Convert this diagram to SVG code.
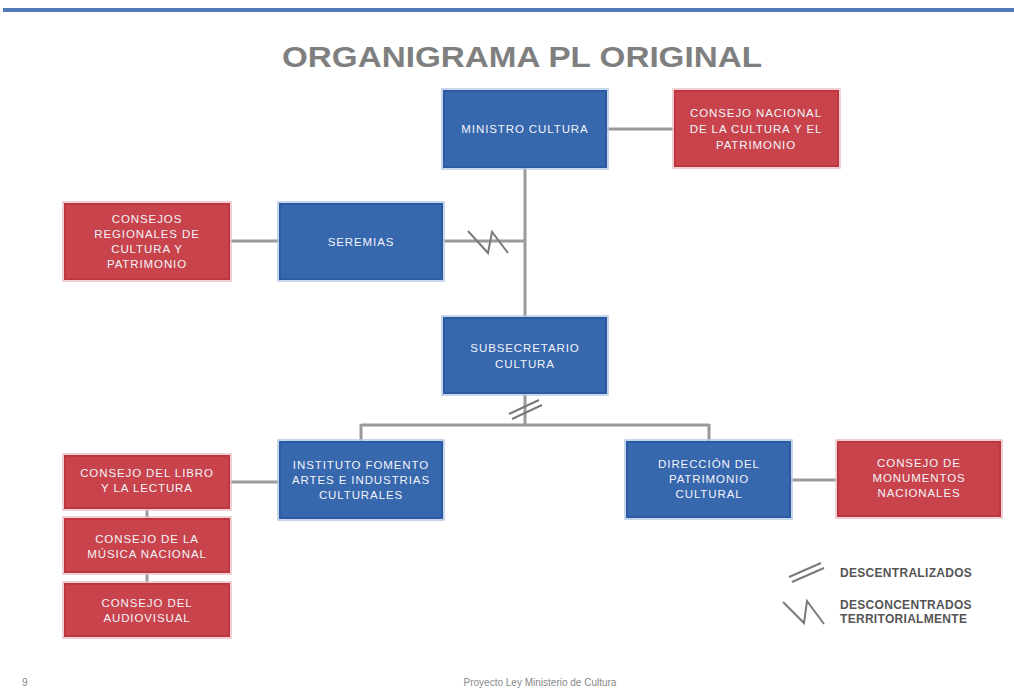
<svg xmlns="http://www.w3.org/2000/svg" width="1014" height="690" viewBox="0 0 1014 690">
<style>
.b{fill:#3767AD;stroke:#2A5BA3;stroke-width:2}
.r{fill:#C8434B;stroke:#BF3540;stroke-width:2}
.bo{fill:none;stroke:#B7C9E4;stroke-width:1.5}
.ro{fill:none;stroke:#EBC0C3;stroke-width:1.5}
.t{font-family:"Liberation Sans",Arial,sans-serif;font-size:11.5px;fill:#F2F4FA;text-anchor:middle;letter-spacing:0.9px}
.c{stroke:#9A9A9A;stroke-width:3;fill:none}
.z{stroke:#7A7A7A;stroke-width:2;fill:none}
.lg{font-family:"Liberation Sans",Arial,sans-serif;font-size:12px;font-weight:bold;fill:#555;letter-spacing:0.3px}
.ft{font-family:"Liberation Sans",Arial,sans-serif;font-size:10px;fill:#888}
</style>
<rect width="1014" height="690" fill="#fff"/>
<rect x="3" y="8" width="1011" height="4" fill="#4F7AB5"/>
<text x="522" y="67" font-family="'Liberation Sans',Arial,sans-serif" font-size="29" font-weight="bold" fill="#7F7F7F" text-anchor="middle" textLength="480" lengthAdjust="spacingAndGlyphs">ORGANIGRAMA PL ORIGINAL</text>

<g id="connectors">
<path class="c" d="M607,129H674"/>
<path class="c" d="M525,168V317"/>
<path class="c" d="M443,241H525"/>
<path class="c" d="M230,241H279"/>
<path class="c" d="M525,394V425M361,425H709M361,424V441M709,424V441"/>
<path class="c" d="M230,482H279"/>
<path class="c" d="M147,509V518M147,573V583"/>
<path class="c" d="M791,480H837"/>
<path class="z" d="M468,231L488,253L492,232L508,253"/>
<path class="z" d="M509,414L539,400M512,419L542,405"/>
</g>

<g id="n1"><rect class="bo" x="442" y="89" width="166" height="80"/><rect class="b" x="444" y="91" width="162" height="76"/><text class="t" x="525" y="133">MINISTRO CULTURA</text></g>
<g id="n2"><rect class="ro" x="673" y="89" width="167" height="79"/><rect class="r" x="675" y="91" width="163" height="75"/><text class="t" x="756" y="117">CONSEJO NACIONAL</text><text class="t" x="756" y="133">DE LA CULTURA Y EL</text><text class="t" x="756" y="149">PATRIMONIO</text></g>
<g id="n3"><rect class="ro" x="63" y="202" width="168" height="79"/><rect class="r" x="65" y="204" width="164" height="75"/><text class="t" x="147" y="223">CONSEJOS</text><text class="t" x="147" y="238">REGIONALES DE</text><text class="t" x="147" y="253">CULTURA Y</text><text class="t" x="147" y="268">PATRIMONIO</text></g>
<g id="n4"><rect class="bo" x="278" y="202" width="166" height="79"/><rect class="b" x="280" y="204" width="162" height="75"/><text class="t" x="361" y="246">SEREMIAS</text></g>
<g id="n5"><rect class="bo" x="442" y="316" width="166" height="79"/><rect class="b" x="444" y="318" width="162" height="75"/><text class="t" x="525" y="352">SUBSECRETARIO</text><text class="t" x="525" y="368">CULTURA</text></g>
<g id="n6"><rect class="bo" x="278" y="440" width="166" height="80"/><rect class="b" x="280" y="442" width="162" height="76"/><text class="t" x="361" y="469">INSTITUTO FOMENTO</text><text class="t" x="361" y="484">ARTES E INDUSTRIAS</text><text class="t" x="361" y="499">CULTURALES</text></g>
<g id="n7"><rect class="bo" x="625" y="440" width="167" height="79"/><rect class="b" x="627" y="442" width="163" height="75"/><text class="t" x="709" y="468">DIRECCIÓN DEL</text><text class="t" x="709" y="483">PATRIMONIO</text><text class="t" x="709" y="498">CULTURAL</text></g>
<g id="n8"><rect class="ro" x="836" y="440" width="166" height="78"/><rect class="r" x="838" y="442" width="162" height="74"/><text class="t" x="919" y="467">CONSEJO DE</text><text class="t" x="919" y="482">MONUMENTOS</text><text class="t" x="919" y="497">NACIONALES</text></g>
<g id="n9"><rect class="ro" x="63" y="454" width="168" height="56"/><rect class="r" x="65" y="456" width="164" height="52"/><text class="t" x="147" y="477">CONSEJO DEL LIBRO</text><text class="t" x="147" y="492">Y LA LECTURA</text></g>
<g id="n10"><rect class="ro" x="63" y="517" width="168" height="57"/><rect class="r" x="65" y="519" width="164" height="53"/><text class="t" x="147" y="543">CONSEJO DE LA</text><text class="t" x="147" y="558">MÚSICA NACIONAL</text></g>
<g id="n11"><rect class="ro" x="63" y="582" width="168" height="56"/><rect class="r" x="65" y="584" width="164" height="52"/><text class="t" x="147" y="607">CONSEJO DEL</text><text class="t" x="147" y="622">AUDIOVISUAL</text></g>

<g id="legend">
<path class="z" d="M789,577L821,563M792,582L824,568"/>
<path class="z" d="M783,602L804,623L807,601L824,624"/>
<text class="lg" x="840" y="577">DESCENTRALIZADOS</text>
<text class="lg" x="840" y="609">DESCONCENTRADOS</text>
<text class="lg" x="840" y="623">TERRITORIALMENTE</text>
</g>
<text class="ft" x="22" y="686">9</text>
<text class="ft" x="540" y="686" text-anchor="middle">Proyecto Ley Ministerio de Cultura</text>
</svg>
